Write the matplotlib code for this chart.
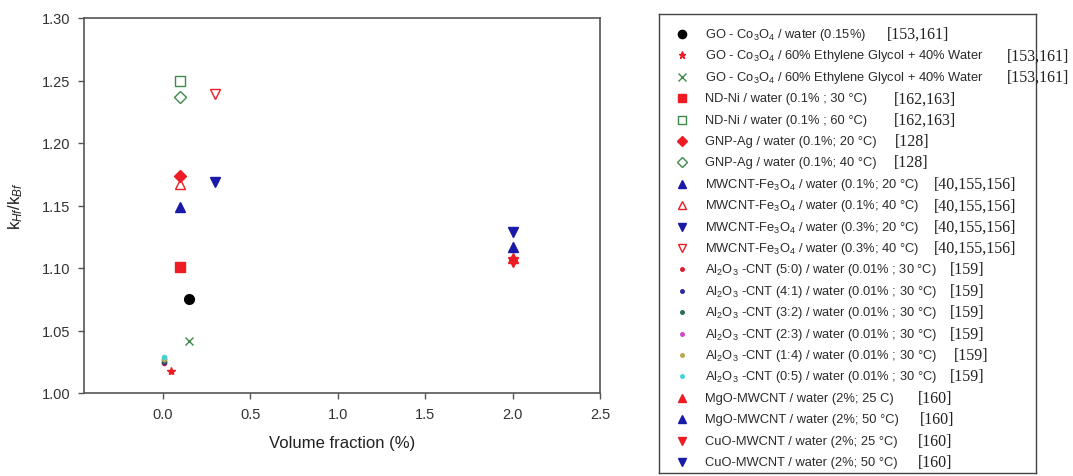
import matplotlib
matplotlib.use("Agg")
import matplotlib.pyplot as plt
import numpy as np

plt.rcParams['font.family'] = ['Liberation Sans', 'DejaVu Sans']
plt.rcParams['mathtext.fontset'] = 'custom'
plt.rcParams['mathtext.rm'] = 'Liberation Sans'
plt.rcParams['mathtext.it'] = 'Liberation Sans:italic'

labels = [
    'GO - Co$_3$O$_4$ / water (0.15%)',
    'GO - Co$_3$O$_4$ / 60% Ethylene Glycol + 40% Water',
    'GO - Co$_3$O$_4$ / 60% Ethylene Glycol + 40% Water',
    'ND-Ni / water (0.1% ; 30 °C)',
    'ND-Ni / water (0.1% ; 60 °C)',
    'GNP-Ag / water (0.1%; 20 °C)',
    'GNP-Ag / water (0.1%; 40 °C)',
    'MWCNT-Fe$_3$O$_4$ / water (0.1%; 20 °C)',
    'MWCNT-Fe$_3$O$_4$ / water (0.1%; 40 °C)',
    'MWCNT-Fe$_3$O$_4$ / water (0.3%; 20 °C)',
    'MWCNT-Fe$_3$O$_4$ / water (0.3%; 40 °C)',
    'Al$_2$O$_3$ -CNT (5:0) / water (0.01% ; 30 °C)',
    'Al$_2$O$_3$ -CNT (4:1) / water (0.01% ; 30 °C)',
    'Al$_2$O$_3$ -CNT (3:2) / water (0.01% ; 30 °C)',
    'Al$_2$O$_3$ -CNT (2:3) / water (0.01% ; 30 °C)',
    'Al$_2$O$_3$ -CNT (1:4) / water (0.01% ; 30 °C)',
    'Al$_2$O$_3$ -CNT (0:5) / water (0.01% ; 30 °C)',
    'MgO-MWCNT / water (2%; 25 C)',
    'MgO-MWCNT / water (2%; 50 °C)',
    'CuO-MWCNT / water (2%; 25 °C)',
    'CuO-MWCNT / water (2%; 50 °C)',
]
refs = ['[153,161]', '[153,161]', '[153,161]', '[162,163]', '[162,163]',
        '[128]', '[128]', '[40,155,156]', '[40,155,156]', '[40,155,156]',
        '[40,155,156]', '[159]', '[159]', '[159]', '[159]', '[159]', '[159]',
        '[160]', '[160]', '[160]', '[160]']

vol_frac = [0.15, 0.05, 0.15, 0.1, 0.1, 0.1, 0.1, 0.1, 0.1, 0.3, 0.3,
            0.01, 0.01, 0.01, 0.01, 0.01, 0.01, 2.0, 2.0, 2.0, 2.0]
k_ratio = [1.075, 1.018, 1.042, 1.101, 1.250, 1.174, 1.237, 1.149, 1.167,
           1.169, 1.239, 1.024, 1.025, 1.026, 1.027, 1.027, 1.029,
           1.108, 1.117, 1.105, 1.129]

RED = '#ee1c24'
BLUE = '#1a1aa8'
GREEN = '#3f8a4a'
markers = ['o', '*', 'x', 's', 's', 'D', 'D', '^', '^', 'v', 'v',
           'o', 'o', 'o', 'o', 'o', 'o', '^', '^', 'v', 'v']
colors = ['black', RED, GREEN, RED, GREEN, RED, GREEN, BLUE, RED, BLUE, RED,
          '#d62030', '#2a2aa0', '#2e6b50', '#d048c8', '#b8a850', '#48d0d8',
          RED, BLUE, RED, BLUE]
filled = [True, True, True, True, False, True, False, True, False, True, False,
          True, True, True, True, True, True, True, True, True, True]
sizes = [7, 6, 6, 6.5, 6.5, 6, 6, 6.5, 6.5, 6.5, 6.5,
         3, 3, 3, 3, 3, 3, 6.5, 6.5, 6.5, 6.5]
# x position (pixels) of each reference bracket in the key
ref_x = [887, 1007, 1007, 894, 894, 895, 894, 934, 934, 934, 934,
         950, 950, 950, 950, 954, 950, 918, 920, 918, 918]

W, H = 1073, 477
fig = plt.figure(figsize=(W / 100, H / 100), dpi=100)
ax = fig.add_axes([84 / W, 1 - 394 / H, (600 - 84) / W, (394 - 19) / H])

for i in range(len(labels)):
    face = colors[i] if filled[i] else 'none'
    ax.plot(vol_frac[i], k_ratio[i], linestyle='none', marker=markers[i],
            markersize=sizes[i], markerfacecolor=face,
            markeredgecolor=colors[i], markeredgewidth=1.0)

ax.set_xlim(-0.45, 2.5)
ax.set_ylim(1.0, 1.3)
ax.set_xticks([0.0, 0.5, 1.0, 1.5, 2.0, 2.5])
ax.set_yticks([1.00, 1.05, 1.10, 1.15, 1.20, 1.25, 1.30])
ax.xaxis.set_major_formatter(matplotlib.ticker.FormatStrFormatter('%.1f'))
ax.yaxis.set_major_formatter(matplotlib.ticker.FormatStrFormatter('%.2f'))
ax.tick_params(direction='out', length=4, width=1, color='#555555',
               labelcolor='#333333', labelsize=10.5, pad=6)
for s in ax.spines.values():
    s.set_color('#555555')
    s.set_linewidth(1.2)
ax.set_xlabel('Volume fraction (%)', fontsize=12, color='#222222', labelpad=10)
ax.set_ylabel('k$_{Hf}$/k$_{Bf}$', fontsize=12, color='#222222', labelpad=12)

# key drawn in its own axes, laid out in pixel units
lax = fig.add_axes([659 / W, 1 - 474 / H, (1036 - 659) / W, (474 - 15) / H])
lax.set_xlim(659, 1036)
lax.set_ylim(474, 15)
lax.set_xticks([])
lax.set_yticks([])
for s in lax.spines.values():
    s.set_color('#444444')
    s.set_linewidth(1.0)

rows = np.linspace(35, 463, len(labels))
for i, yr in enumerate(rows):
    face = colors[i] if filled[i] else 'none'
    lax.plot(682, yr, linestyle='none', marker=markers[i],
             markersize=sizes[i] * 0.85, markerfacecolor=face,
             markeredgecolor=colors[i], markeredgewidth=1.0)
    lax.text(705, yr, labels[i], fontsize=9.3, color='#2a2a2a', va='center')
    lax.text(ref_x[i], yr, refs[i], fontsize=11.5, color='#222222', va='center',
             family=['Liberation Serif', 'DejaVu Serif'])

fig.savefig('out.png', dpi=100)
